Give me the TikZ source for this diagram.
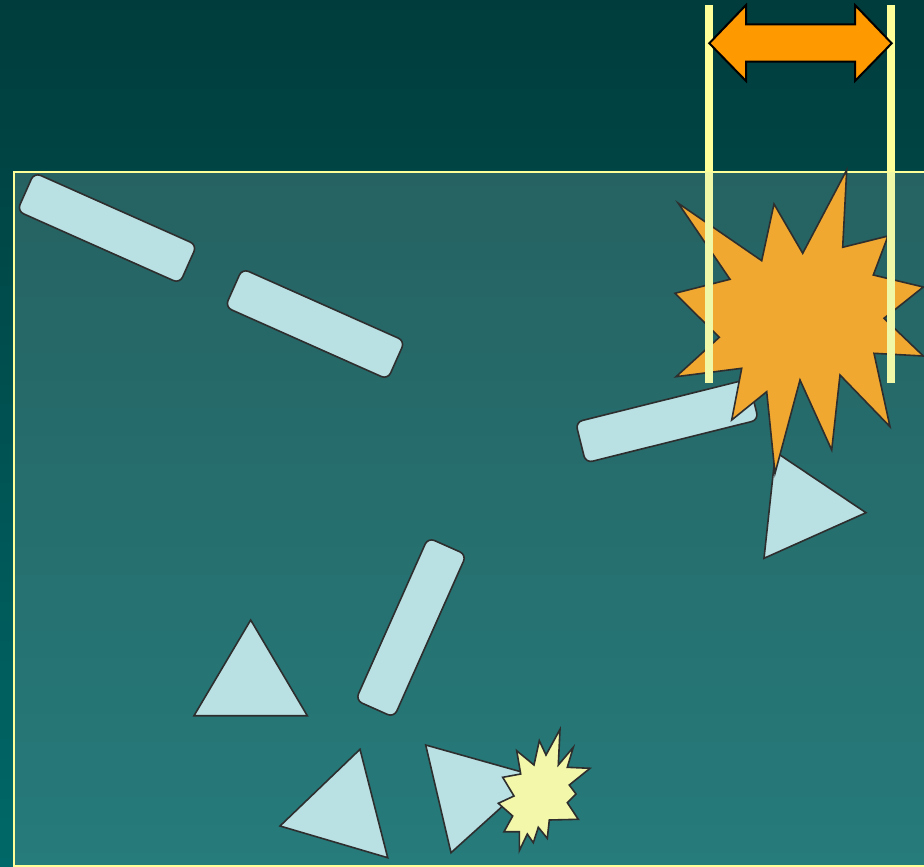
\documentclass[tikz,border=0pt]{standalone}
\usepackage{tikz}
\definecolor{deepteal}{HTML}{003C3C}
\definecolor{lowteal}{HTML}{006868}
\definecolor{paneltop}{HTML}{266262}
\definecolor{panelbottom}{HTML}{267B7B}
\definecolor{paleblue}{HTML}{B9E0E3}
\definecolor{shapeline}{HTML}{2E2E2E}
\definecolor{sealorange}{HTML}{F0A830}
\definecolor{sealyellow}{HTML}{F3F7AA}
\definecolor{paleyellow}{HTML}{FFFF99}
\definecolor{fadedyellow}{HTML}{F0F8A8}
\definecolor{arroworange}{HTML}{FF9900}

\begin{document}
\begin{tikzpicture}[x=1pt, y=-1pt,
  bar/.style={draw=shapeline, fill=paleblue, line width=1.6pt,
    rounded corners=7pt, minimum width=178pt, minimum height=42pt,
    inner sep=0pt},
  tri/.style={draw=shapeline, fill=paleblue, line width=1.6pt},
  seal/.style={draw=shapeline, line width=1.6pt}]

  \useasboundingbox (0,0) rectangle (924,867);
  \clip (0,0) rectangle (924,867);

  % Backdrop
  \shade[top color=deepteal, bottom color=lowteal]
    (0,0) rectangle (924,867);
  % Panel
  \shade[top color=paneltop, bottom color=panelbottom]
    (14,172) rectangle (930,866);
  \draw[paleyellow, line width=1.5pt]
    (930,172) -- (14,172) -- (14,866) -- (930,866);

  % Rounded bars
  \node[bar, rotate=-24] (barOne) at (107,228) {};
  \node[bar, rotate=-24] (barTwo) at (315,324) {};
  \node[bar, rotate=14] (barThree) at (667,421) {};
  \node[bar, rotate=66] (barFour) at (411,627.5) {};

  % Triangles
  \draw[tri] (250.7,620) -- (194,715.7) -- (307.3,715.7) -- cycle;
  \draw[tri] (360,749.3) -- (280,826) -- (387.7,857.7) -- cycle;
  \draw[tri] (425.7,745) -- (451,852.7) -- (536,776) -- cycle;
  \draw[tri] (775.5,452) -- (764,558.3) -- (866,512.7) -- cycle;

  % Big explosion
  \draw[seal, fill=sealorange]
    (846.7,170) -- (842.7,247.3) -- (888,236) -- (873.3,275)
    -- (923.3,287) -- (884,318.3) -- (923.3,356) -- (874,353.3)
    -- (890,426.7) -- (840,375) -- (831.7,450) -- (800,380)
    -- (775,473.3) -- (766.7,391.7) -- (731.7,420) -- (741.7,368.3)
    -- (676,376.7) -- (719.3,337.3) -- (675,293.3) -- (730,279.3)
    -- (678.3,203.3) -- (761.7,260.7) -- (774,204) -- (802.7,253.3)
    -- cycle;

  % Small explosion
  \draw[seal, fill=sealyellow]
    (560,729.3) -- (546,755) -- (539.3,740.7) -- (534,765)
    -- (516.7,750.7) -- (520.7,774) -- (502.7,777.3) -- (514,796)
    -- (498.3,803.3) -- (512.7,816) -- (504,831.7) -- (519.3,831.7)
    -- (519.3,850.7) -- (527.3,834) -- (533.3,842.7) -- (538.3,827.3)
    -- (547.3,838.3) -- (549.3,820) -- (578.3,819.3) -- (567.3,802.7)
    -- (576,794) -- (569.3,785) -- (590,768.3) -- (567.3,767.3)
    -- (573.3,747.3) -- (558.3,765) -- cycle;

  % Width markers
  \foreach \xm in {709.3,891} {
    \draw[paleyellow, line width=8pt] (\xm,5.5) -- (\xm,172);
    \draw[fadedyellow, line width=8pt] (\xm,172) -- (\xm,383);
  }

  % Double arrow
  \draw[fill=arroworange, line width=2pt, line join=miter]
    (709.3,43.3) -- (746,5) -- (746,24.3) -- (855,24.3) -- (855,5)
    -- (891.7,43.3) -- (855,81) -- (855,61.7) -- (746,61.7)
    -- (746,81) -- cycle;

\end{tikzpicture}
\end{document}
